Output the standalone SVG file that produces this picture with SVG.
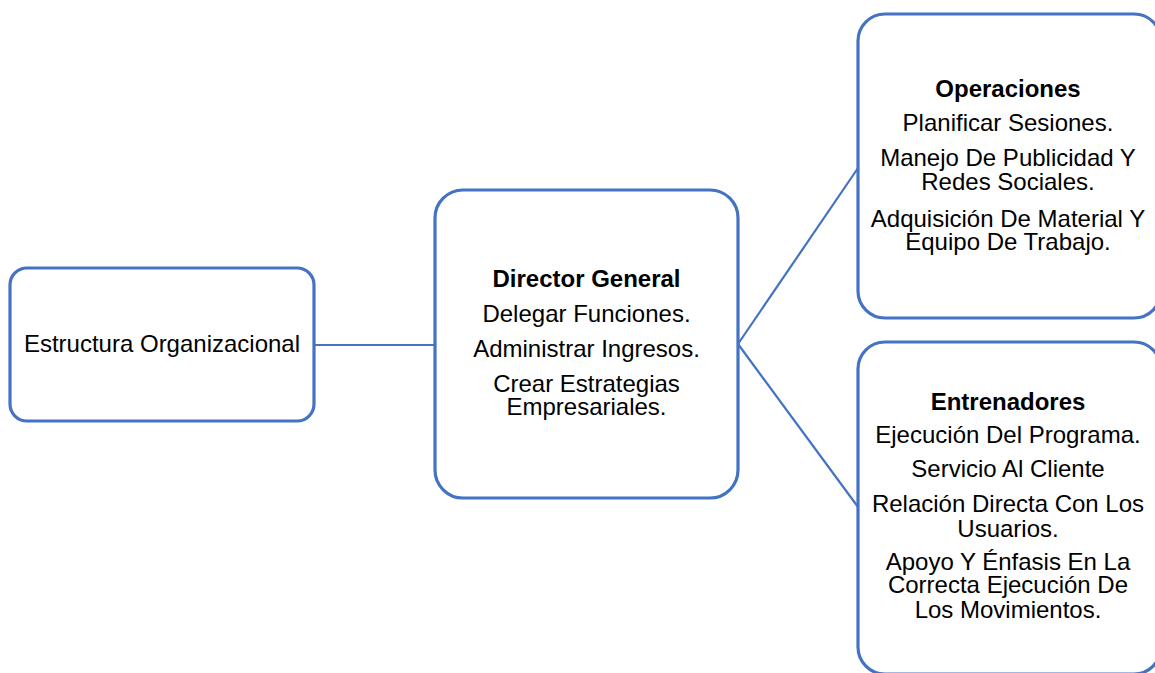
<svg xmlns="http://www.w3.org/2000/svg" width="1155" height="673" viewBox="0 0 1155 673">
<style>
.box{fill:#ffffff;stroke:#4472C4;stroke-width:3.2}
.con{stroke:#4472C4;stroke-width:2.2;fill:none}
text{font-family:"Liberation Sans",Arial,sans-serif;font-size:24px;fill:#000;text-anchor:middle}
.b{font-weight:bold}
</style>
<rect width="1155" height="673" fill="#ffffff"/>
<g id="connectors">
<line class="con" x1="314" y1="345" x2="435" y2="345"/>
<line class="con" x1="738" y1="344" x2="858" y2="168"/>
<line class="con" x1="738" y1="344" x2="858" y2="507"/>
</g>
<g id="node-estructura">
<rect class="box" x="10" y="268" width="304" height="153" rx="17"/>
<text x="162" y="352">Estructura Organizacional</text>
</g>
<g id="node-director">
<rect class="box" x="435" y="190" width="303" height="308" rx="28"/>
<text class="b" x="586.5" y="287">Director General</text>
<text x="586.5" y="322">Delegar Funciones.</text>
<text x="586.5" y="357">Administrar Ingresos.</text>
<text x="586.5" y="392">Crear Estrategias</text>
<text x="586.5" y="415">Empresariales.</text>
</g>
<g id="node-operaciones">
<rect class="box" x="858" y="14" width="303" height="304" rx="27"/>
<text class="b" x="1008" y="97">Operaciones</text>
<text x="1008" y="131">Planificar Sesiones.</text>
<text x="1008" y="166">Manejo De Publicidad Y</text>
<text x="1008" y="190">Redes Sociales.</text>
<text x="1008" y="227">Adquisición De Material Y</text>
<text x="1008" y="250">Equipo De Trabajo.</text>
</g>
<g id="node-entrenadores">
<rect class="box" x="858" y="342" width="303" height="332" rx="27"/>
<text class="b" x="1008" y="410">Entrenadores</text>
<text x="1008" y="443">Ejecución Del Programa.</text>
<text x="1008" y="477">Servicio Al Cliente</text>
<text x="1008" y="512">Relación Directa Con Los</text>
<text x="1008" y="537">Usuarios.</text>
<text x="1008" y="570">Apoyo Y Énfasis En La</text>
<text x="1008" y="593">Correcta Ejecución De</text>
<text x="1008" y="618">Los Movimientos.</text>
</g>
</svg>
